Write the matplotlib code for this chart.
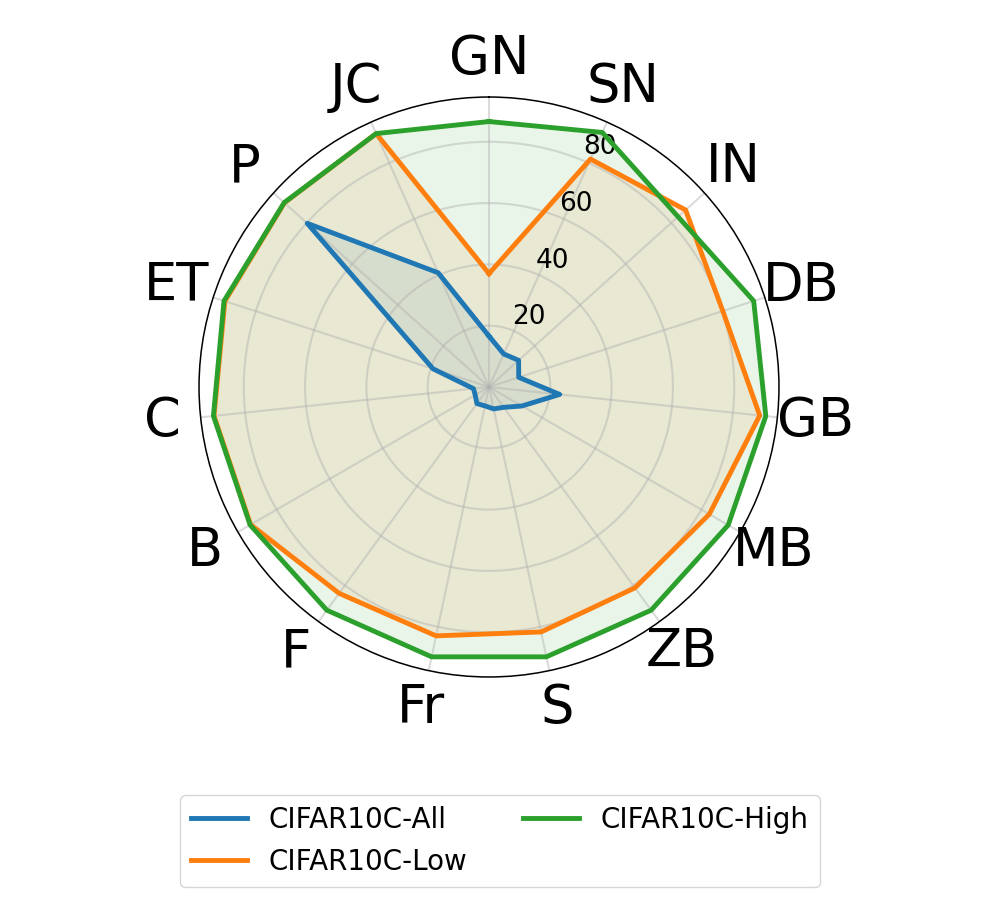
import numpy as np
import matplotlib.pyplot as plt

# Corruption types (clockwise from the top)
categories = ['GN', 'SN', 'IN', 'DB', 'GB', 'MB', 'ZB', 'S', 'Fr', 'F', 'B', 'C', 'ET', 'P', 'JC']

# Accuracy per corruption for each training set
all_vals = [16.6, 11.8, 13.0, 10.2, 23.2, 12.4, 8.2, 7.3, 6.3, 6.7, 5.2, 5.1, 19.2, 79.8, 40.8]
low_vals = [37.0, 81.4, 86.3, 80.2, 88.8, 83.0, 81.0, 81.7, 83.0, 83.2, 89.8, 90.2, 90.6, 89.8, 90.5]
high_vals = [86.6, 90.9, 83.0, 90.8, 90.8, 90.1, 90.0, 90.0, 90.0, 90.0, 90.0, 90.4, 90.9, 89.9, 90.5]

series = [('CIFAR10C-All', all_vals, '#1f77b4'),
          ('CIFAR10C-Low', low_vals, '#ff7f0e'),
          ('CIFAR10C-High', high_vals, '#2ca02c')]

n = len(categories)
angles = np.linspace(0, 2 * np.pi, n, endpoint=False)
closed = np.concatenate([angles, angles[:1]])

fig = plt.figure(figsize=(10, 9), dpi=100)
ax = fig.add_axes([0.199, 0.2478, 0.58, 0.6444], polar=True)
ax.set_theta_offset(np.pi / 2)
ax.set_theta_direction(-1)

for label, vals, color in series:
    v = np.concatenate([vals, vals[:1]])
    ax.plot(closed, v, color=color, linewidth=3.5, label=label)
    ax.fill(closed, v, color=color, alpha=0.1)

ax.set_xticks(angles)
ax.set_xticklabels(categories, fontsize=38)
ax.tick_params(axis='x', pad=17)
ax.set_ylim(0, 94.6)
ax.set_yticks([20, 40, 60, 80])
ax.set_yticklabels(['20', '40', '60', '80'], fontsize=19)
ax.grid(color='#b0b0b0', alpha=0.45, linewidth=1.5)
ax.spines['polar'].set_linewidth(1.1)

fig.legend(loc='upper center', bbox_to_anchor=(0.5, 0.1167), ncol=2,
           fontsize=20, borderaxespad=0)

fig.savefig('out.png', dpi=100)
